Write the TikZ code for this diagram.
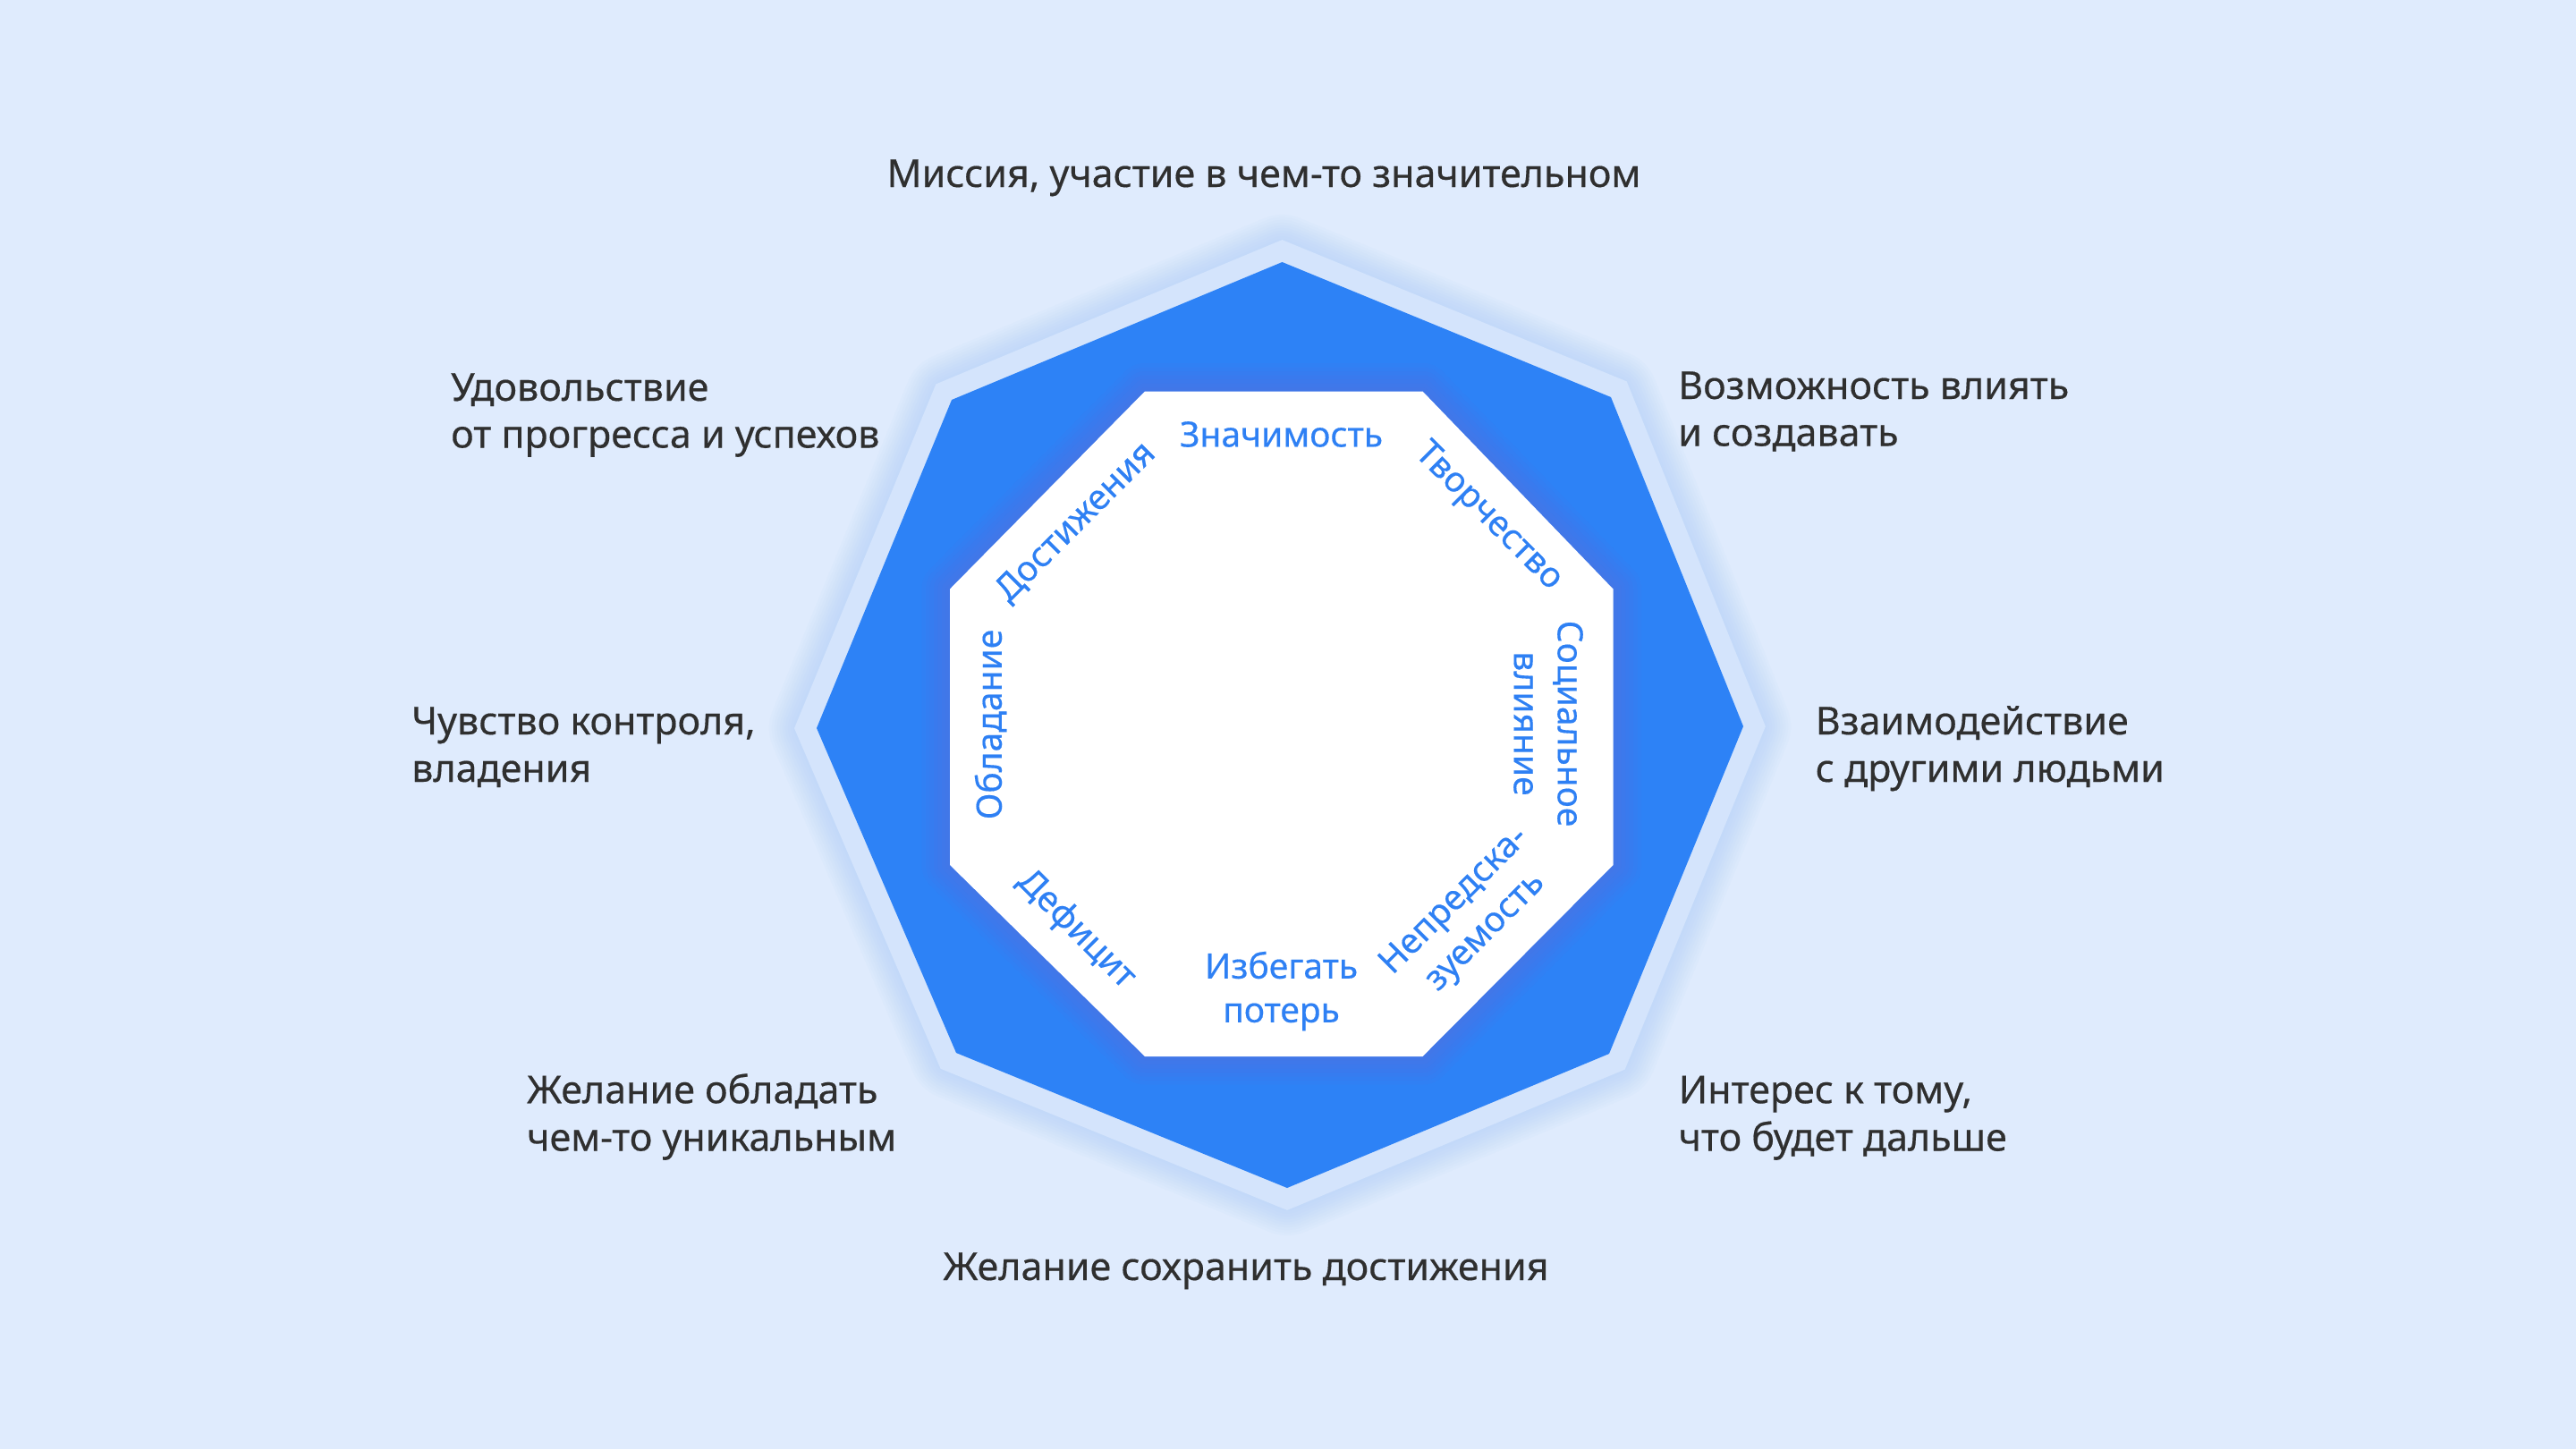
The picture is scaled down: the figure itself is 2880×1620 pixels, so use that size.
\documentclass[tikz,border=0pt]{standalone}
\usepackage{fontspec}
\setmainfont{Noto Sans}
\newfontfamily\medfont{Noto Sans}[FakeBold=0.35]
\definecolor{bgc}{HTML}{DFEBFD}
\definecolor{darkc}{HTML}{2D82F6}
\definecolor{ringc}{HTML}{D4E4FC}
\definecolor{glowc}{HTML}{A9CBF9}
\definecolor{shadc}{HTML}{7468D4}
\definecolor{txtc}{HTML}{2F2F2F}
\definecolor{lblc}{HTML}{2E80F4}
\newcommand\outerfont{\medfont\fontsize{43}{52}\selectfont}
\newcommand\innerfont{\medfont\fontsize{39}{49}\selectfont}
\tikzset{
  outlbl/.style={font=\outerfont, text=txtc, inner sep=0pt, anchor=base west},
  toplbl/.style={font=\outerfont, text=txtc, inner sep=0pt, anchor=base},
  inlbl/.style={font=\innerfont, text=lblc, inner sep=0pt, align=center},
}
\begin{document}
\begin{tikzpicture}[x=1pt,y=-1pt]
\useasboundingbox (0,0) rectangle (2880,1620);
\fill[bgc] (0,0) rectangle (2880,1620);
% outer octagon
\coordinate (oT) at (1433.5,293);
\coordinate (oUR) at (1801,444);
\coordinate (oR) at (1949,812);
\coordinate (oLR) at (1799,1178);
\coordinate (oB) at (1439,1328);
\coordinate (oLL) at (1069,1177);
\coordinate (oL) at (913,814);
\coordinate (oUL) at (1064,447);
% inner octagon
\coordinate (iA) at (1280,437.5);
\coordinate (iB) at (1590.5,437.5);
\coordinate (iC) at (1803.5,658.5);
\coordinate (iD) at (1803.5,967);
\coordinate (iE) at (1590.5,1181);
\coordinate (iF) at (1280,1181);
\coordinate (iG) at (1062,967);
\coordinate (iH) at (1062,658.5);
% glow
\foreach \k in {1,...,10}{
  \draw[glowc, opacity=0.06, line width={46+6*\k}, line join=round]
    (oT)--(oUR)--(oR)--(oLR)--(oB)--(oLL)--(oL)--(oUL)--cycle;
}
\draw[ringc, line width=46, line join=miter]
  (oT)--(oUR)--(oR)--(oLR)--(oB)--(oLL)--(oL)--(oUL)--cycle;
\fill[darkc] (oT)--(oUR)--(oR)--(oLR)--(oB)--(oLL)--(oL)--(oUL)--cycle;
\begin{scope}
  \clip (oT)--(oUR)--(oR)--(oLR)--(oB)--(oLL)--(oL)--(oUL)--cycle;
  \foreach \k in {1,...,7}{
    \draw[shadc, opacity=0.055, line width={9*\k}, line join=round]
      (iA)--(iB)--(iC)--(iD)--(iE)--(iF)--(iG)--(iH)--cycle;
  }
\end{scope}
\fill[white] (iA)--(iB)--(iC)--(iD)--(iE)--(iF)--(iG)--(iH)--cycle;
% inner labels
\node[inlbl] (lTop) at (1432.5,485.5) {Значимость};
\node[inlbl, rotate=-45] (lUR) at (1663.6,578) {Творчество};
\node[inlbl, rotate=-90] (lR) at (1731,809) {Социальное\\влияние};
\node[inlbl, rotate=45] (lLR) at (1644,1025) {Непредска-\\зуемость};
\node[inlbl] (lB) at (1432.5,1108) {Избегать\\потерь};
\node[inlbl, rotate=-45] (lLL) at (1203,1039.6) {Дефицит};
\node[inlbl, rotate=90] (lL) at (1107.5,810) {Обладание};
\node[inlbl, rotate=45] (lUL) at (1203,584) {Достижения};
% outer labels
\node[toplbl] (tTop) at (1413,209) {Миссия, участие в чем-то значительном};
\node[outlbl] (tUL1) at (504,448) {Удовольствие};
\node[outlbl] (tUL2) at (504,500.5) {от прогресса и успехов};
\node[outlbl] (tUR1) at (1876,446) {Возможность влиять};
\node[outlbl] (tUR2) at (1876,498.5) {и создавать};
\node[outlbl] (tL1) at (460,821) {Чувство контроля,};
\node[outlbl] (tL2) at (460,874) {владения};
\node[outlbl] (tR1) at (2029.5,821) {Взаимодействие};
\node[outlbl] (tR2) at (2029.5,874) {с другими людьми};
\node[outlbl] (tLL1) at (589,1233.3) {Желание обладать};
\node[outlbl] (tLL2) at (589,1286.5) {чем-то уникальным};
\node[outlbl] (tLR1) at (1876.5,1233.3) {Интерес к тому,};
\node[outlbl] (tLR2) at (1876.5,1286.5) {что будет дальше};
\node[toplbl] (tBot) at (1393,1431) {Желание сохранить достижения};
\end{tikzpicture}
\end{document}
